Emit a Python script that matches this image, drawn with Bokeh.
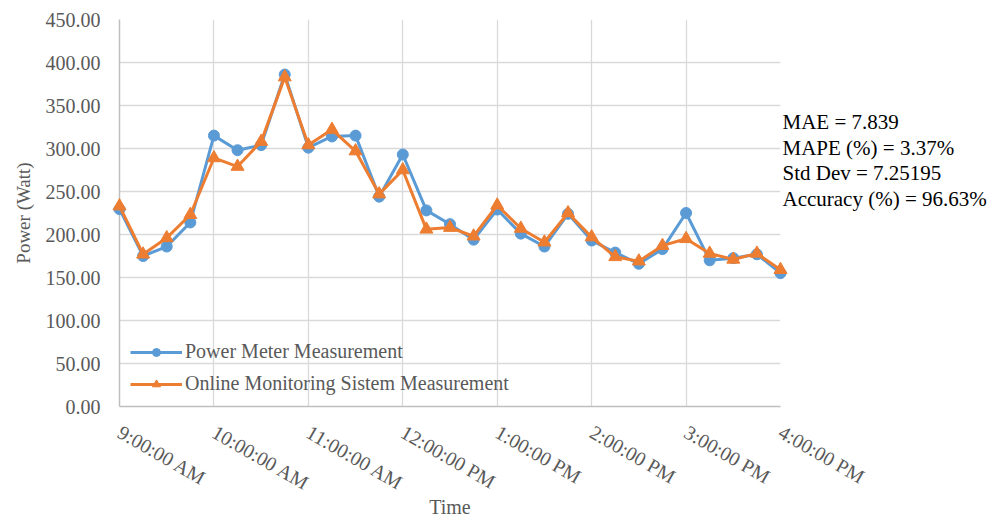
from bokeh.plotting import figure
from bokeh.models import FixedTicker, PrintfTickFormatter, Range1d, Legend, LinearAxis
from bokeh.embed import file_html
from bokeh.resources import INLINE
import math

# ---- data ----
times = ["9:00", "9:15", "9:30", "9:45", "10:00", "10:15", "10:30", "10:45",
         "11:00", "11:15", "11:30", "11:45", "12:00", "12:15", "12:30", "12:45",
         "13:00", "13:15", "13:30", "13:45", "14:00", "14:15", "14:30", "14:45",
         "15:00", "15:15", "15:30", "15:45", "16:00"]
power_meter = [229.5, 175, 186, 214, 315, 298, 304, 386, 301, 314, 315, 244, 293,
               228, 212, 194, 229, 201, 186, 224, 193, 179, 166, 183, 225, 170,
               172.5, 177, 155]
online_monitoring = [233, 177, 196, 223, 289, 279, 308, 383, 304, 322, 297, 247, 275,
                     206, 208, 198, 234, 207, 191, 225, 197, 174, 169, 187, 195, 178,
                     171, 178, 159]
hour_ticks = [9, 10, 11, 12, 13, 14, 15, 16]
hour_labels = ["9:00:00 AM", "10:00:00 AM", "11:00:00 AM", "12:00:00 PM",
               "1:00:00 PM", "2:00:00 PM", "3:00:00 PM", "4:00:00 PM"]
y_ticks = [0, 50, 100, 150, 200, 250, 300, 350, 400, 450]
stats = ["MAE = 7.839", "MAPE (%) = 3.37%", "Std Dev = 7.25195", "Accuracy (%) = 96.63%"]
stats_pos = [331, 301, 272, 241]   # vertical placement of the statistics lines

x = [int(t.split(":")[0]) + int(t.split(":")[1]) / 60 for t in times]

FONT = "Liberation Serif"
GRAY = "#595959"
BLUE = "#5B9BD5"
ORANGE = "#ED7D31"

p = figure(width=997, height=521, output_backend="svg", toolbar_location=None,
           x_range=Range1d(9, 16), y_range=Range1d(0, 450),
           min_border_left=119, min_border_right=217, min_border_top=19,
           min_border_bottom=115)
p.outline_line_color = None
p.background_fill_color = "white"
p.border_fill_color = "white"

r1l = p.line(x, power_meter, line_color=BLUE, line_width=3, level="overlay")
r1m = p.scatter(x, power_meter, marker="circle", size=11, fill_color=BLUE,
                line_color=BLUE, level="overlay")
r2l = p.line(x, online_monitoring, line_color=ORANGE, line_width=3, level="overlay")
r2m = p.scatter(x, online_monitoring, marker="triangle", size=13, fill_color=ORANGE,
                line_color=ORANGE, level="overlay")

legend = Legend(items=[("Power Meter Measurement", [r1l, r1m]),
                       ("Online Monitoring Sistem Measurement", [r2l, r2m])],
                location=(11, 11), padding=0, spacing=9, glyph_width=52,
                glyph_height=20, label_height=20, label_standoff=3,
                label_text_font=FONT, label_text_font_size="20px",
                label_text_color=GRAY, background_fill_alpha=0,
                border_line_color=None, margin=0)
p.add_layout(legend)

# statistics text to the right of the plot area (as labels of a bare right axis)
stats_axis = LinearAxis(ticker=FixedTicker(ticks=stats_pos),
                        major_label_overrides={v: s for v, s in zip(stats_pos, stats)},
                        axis_line_color=None, major_tick_line_color=None,
                        minor_tick_line_color=None, major_label_standoff=-4,
                        major_label_text_font=FONT, major_label_text_font_size="21px",
                        major_label_text_color="black")
p.add_layout(stats_axis, "right")

p.xaxis[0].ticker = FixedTicker(ticks=hour_ticks)
p.xaxis[0].major_label_overrides = {t: l for t, l in zip(hour_ticks, hour_labels)}
p.xaxis[0].major_label_orientation = -math.pi / 6
yax = p.yaxis[0]
yax.ticker = FixedTicker(ticks=y_ticks)
yax.formatter = PrintfTickFormatter(format="%.2f")

for ax in (p.xaxis[0], yax):
    ax.axis_line_color = "#bfbfbf"
    ax.axis_line_width = 1.5
    ax.major_tick_line_color = None
    ax.minor_tick_line_color = None
    ax.major_label_text_font = FONT
    ax.major_label_text_font_size = "20px"
    ax.major_label_text_color = GRAY
    ax.axis_label_text_font = FONT
    ax.axis_label_text_font_style = "normal"
    ax.axis_label_text_color = GRAY

p.xaxis[0].axis_label = "Time"
p.xaxis[0].axis_label_text_font_size = "20px"
p.xaxis[0].major_label_standoff = 18
p.xaxis[0].axis_label_standoff = -11
yax.axis_label = "Power (Watt)"
yax.axis_label_text_font_size = "19px"
yax.major_label_standoff = 13
yax.axis_label_standoff = 9

p.xgrid.grid_line_color = "#d9d9d9"
p.ygrid.grid_line_color = "#d9d9d9"
p.xgrid.grid_line_width = 1.3
p.ygrid.grid_line_width = 1.3

open("out.html", "w").write(file_html(p, INLINE))
